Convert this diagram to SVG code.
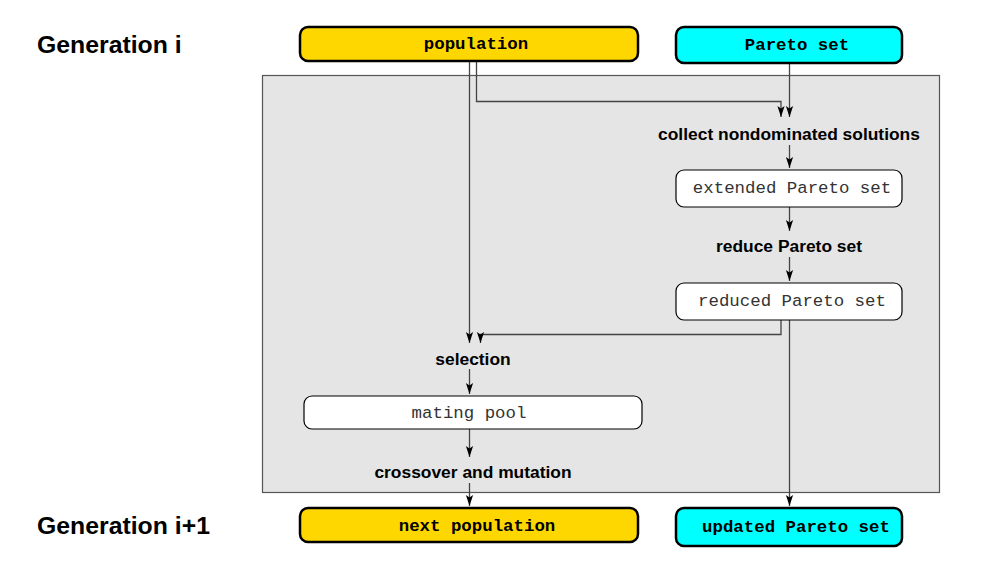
<svg xmlns="http://www.w3.org/2000/svg" width="1008" height="586" viewBox="0 0 1008 586">
<style>
.gen{font-family:"Liberation Sans",Arial,sans-serif;font-weight:bold;font-size:24.8px;fill:#000}
.lbl{font-family:"Liberation Sans",Arial,sans-serif;font-weight:bold;font-size:17.4px;fill:#000;text-anchor:middle}
.mono{font-family:"Liberation Mono","Courier New",monospace;font-size:17.4px;fill:#333;text-anchor:middle}
.monob{font-family:"Liberation Mono","Courier New",monospace;font-size:17.4px;font-weight:bold;fill:#000;text-anchor:middle}
.ext{fill:#FFD700;stroke:#000;stroke-width:2.5}
.par{fill:#00FFFF;stroke:#000;stroke-width:2.5}
.inner{fill:#fff;stroke:#000;stroke-width:1.2}
.conn path{fill:none;stroke:#444;stroke-width:1.3}
</style>
<defs>
<marker id="ah" markerUnits="userSpaceOnUse" markerWidth="12" markerHeight="10" viewBox="0 -5 12 10" refX="11" refY="0" orient="auto">
<path d="M0,-3.6 L11,0 L0,3.6 L2.5,0 z" fill="#000"/>
</marker>
</defs>
<rect id="panel" x="262.5" y="75.5" width="677" height="417" fill="#E5E5E5" stroke="#555" stroke-width="1.2"/>
<text class="gen" x="37" y="53">Generation i</text>
<text class="gen" x="37" y="534">Generation i+1</text>
<g class="conn">
<path d="M469.5,61 V343" marker-end="url(#ah)"/>
<path d="M476.5,61 V101.5 H781 V117" marker-end="url(#ah)"/>
<path d="M789.5,63 V117" marker-end="url(#ah)"/>
<path d="M789.5,145 V168" marker-end="url(#ah)"/>
<path d="M789.5,207 V231" marker-end="url(#ah)"/>
<path d="M789.5,257 V281" marker-end="url(#ah)"/>
<path d="M781,320 V334.5 H480.5 V343" marker-end="url(#ah)"/>
<path d="M789.5,320 V506" marker-end="url(#ah)"/>
<path d="M469.5,369 V394" marker-end="url(#ah)"/>
<path d="M469.5,429 V457" marker-end="url(#ah)"/>
<path d="M469.5,483 V506" marker-end="url(#ah)"/>
</g>
<g id="population"><rect class="ext" x="300" y="27" width="338" height="34" rx="8"/><text class="monob" x="476" y="49">population</text></g>
<g id="pareto"><rect class="par" x="676" y="27" width="226" height="36" rx="8"/><text class="monob" x="797" y="50">Pareto set</text></g>
<g id="collect"><text class="lbl" x="789" y="140">collect nondominated solutions</text></g>
<g id="extended"><rect class="inner" x="676" y="170" width="226" height="37" rx="8"/><text class="mono" x="792" y="193">extended Pareto set</text></g>
<g id="reduce"><text class="lbl" x="789" y="252">reduce Pareto set</text></g>
<g id="reduced"><rect class="inner" x="676" y="283" width="226" height="37" rx="8"/><text class="mono" x="792" y="306">reduced Pareto set</text></g>
<g id="selection"><text class="lbl" x="473" y="365">selection</text></g>
<g id="mating"><rect class="inner" x="304" y="396" width="338" height="33" rx="8"/><text class="mono" x="469" y="418">mating pool</text></g>
<g id="crossover"><text class="lbl" x="473" y="478">crossover and mutation</text></g>
<g id="nextpop"><rect class="ext" x="300" y="508" width="338" height="34" rx="8"/><text class="monob" x="477" y="531">next population</text></g>
<g id="updated"><rect class="par" x="676" y="508" width="226" height="38" rx="8"/><text class="monob" x="796" y="532">updated Pareto set</text></g>
</svg>
